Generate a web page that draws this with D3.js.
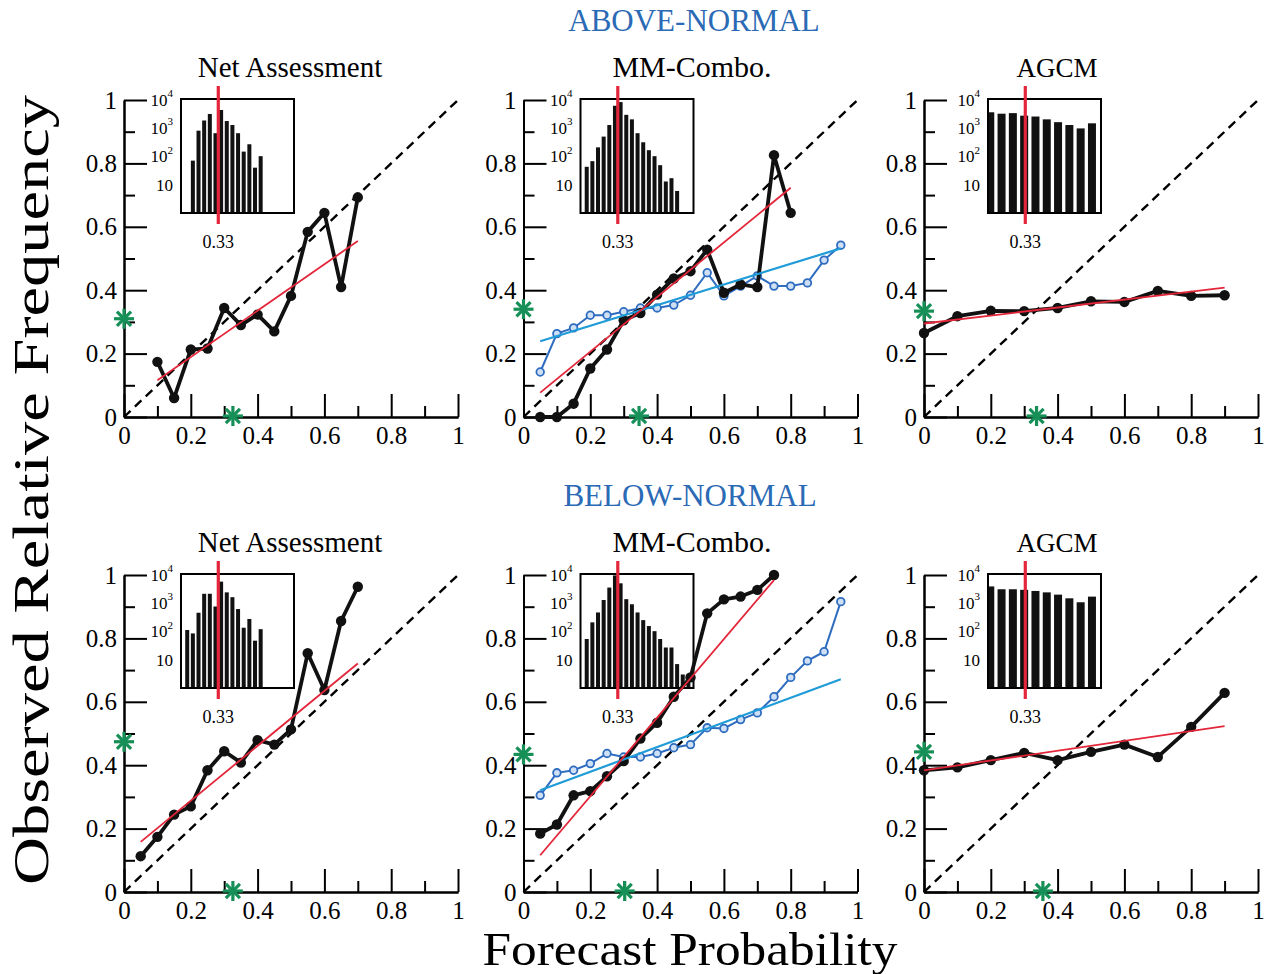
<!DOCTYPE html>
<html><head><meta charset="utf-8">
<script src="https://cdn.jsdelivr.net/npm/d3@7"></script>
<style>body{margin:0;background:#fff} text{font-family:"Liberation Serif","Times New Roman",serif}</style>
</head><body><svg id="c" width="1268" height="974"></svg>
<script>
// ---------- labels ----------
const rowLabels = ["ABOVE-NORMAL", "BELOW-NORMAL"];
const panelTitles = ["Net Assessment", "MM-Combo.", "AGCM"];
const majorTicks = [0, 0.2, 0.4, 0.6, 0.8, 1];
const majorTickLabels = ["0", "0.2", "0.4", "0.6", "0.8", "1"];
const minorTicks = [0.1, 0.3, 0.5, 0.7, 0.9];
const insetTicks = [10000, 1000, 100, 10];
const insetTickBase = ["10", "10", "10", "10"];
const insetTickExp = ["4", "3", "2", ""];
const climoLabel = "0.33";
const climoValue = 0.33;

// ---------- ABOVE-NORMAL : Net Assessment ----------
const naAbvX = [0.10,0.15,0.20,0.25,0.30,0.35,0.40,0.45,0.50,0.55,0.60,0.65,0.70];
const naAbvY = [0.174,0.06,0.213,0.216,0.344,0.29,0.323,0.27,0.382,0.584,0.644,0.41,0.693];
const naAbvFitX = [0.10, 0.70];
const naAbvFitY = [0.116, 0.555];
const naAbvHistX = [0.10,0.15,0.20,0.25,0.30,0.35,0.40,0.45,0.50,0.55,0.60,0.65,0.70];
const naAbvHist = [71,813,1862,3162,661,4365,1778,1288,661,148,269,40,102];
const naAbvStar = [0.31, 0.326];

// ---------- ABOVE-NORMAL : MM-Combo ----------
const mmAbvX = [0.05,0.10,0.15,0.20,0.25,0.30,0.35,0.40,0.45,0.50,0.55,0.60,0.65,0.70,0.75,0.80];
const mmAbvY = [0.0,0.0,0.042,0.153,0.213,0.305,0.328,0.386,0.437,0.46,0.528,0.392,0.418,0.41,0.826,0.644];
const mmAbvFitX = [0.05, 0.80];
const mmAbvFitY = [0.077, 0.723];
const mmAbvBlueX = [0.05,0.10,0.15,0.20,0.25,0.30,0.35,0.40,0.45,0.50,0.55,0.60,0.65,0.70,0.75,0.80,0.85,0.90,0.95];
const mmAbvBlueY = [0.142,0.263,0.281,0.321,0.321,0.332,0.344,0.344,0.353,0.384,0.455,0.382,0.413,0.445,0.413,0.413,0.423,0.495,0.542];
const mmAbvBlueFitX = [0.05, 0.95];
const mmAbvBlueFitY = [0.239, 0.532];
const mmAbvHistX = [0.05,0.10,0.15,0.20,0.25,0.30,0.35,0.40,0.45,0.50,0.55,0.60,0.65,0.70,0.75,0.80,0.85];
const mmAbvHist = [43,68,209,501,1288,6166,8318,2951,2042,661,316,166,102,49,13,17,6];
const mmAbvStar = [0.34, 0.346];

// ---------- ABOVE-NORMAL : AGCM ----------
const agAbvX = [0.0,0.1,0.2,0.3,0.4,0.5,0.6,0.7,0.8,0.9];
const agAbvY = [0.265,0.318,0.335,0.334,0.344,0.365,0.363,0.398,0.382,0.384];
const agAbvFitX = [0.0, 0.9];
const agAbvFitY = [0.295, 0.408];
const agAbvHistX = [0.0,0.1,0.2,0.3,0.4,0.5,0.6,0.7,0.8,0.9];
const agAbvHist = [3631,3236,3388,2754,2570,2042,1622,1288,977,1479];
const agAbvStar = [0.334, 0.337];

// ---------- BELOW-NORMAL : Net Assessment ----------
const naBlwX = [0.05,0.10,0.15,0.20,0.25,0.30,0.35,0.40,0.45,0.50,0.55,0.60,0.65,0.70];
const naBlwY = [0.113,0.174,0.244,0.27,0.384,0.444,0.408,0.479,0.465,0.513,0.753,0.637,0.855,0.963];
const naBlwFitX = [0.05, 0.70];
const naBlwFitY = [0.158, 0.721];
const naBlwHistX = [0.05,0.10,0.15,0.20,0.25,0.30,0.35,0.40,0.45,0.50,0.55,0.60,0.65,0.70];
const naBlwHist = [112,85,457,2138,2138,759,5754,2399,1622,617,135,275,47,120];
const naBlwStar = [0.474, 0.326];

// ---------- BELOW-NORMAL : MM-Combo ----------
const mmBlwX = [0.05,0.10,0.15,0.20,0.25,0.30,0.35,0.40,0.45,0.50,0.55,0.60,0.65,0.70,0.75];
const mmBlwY = [0.184,0.213,0.305,0.318,0.365,0.413,0.484,0.534,0.616,0.677,0.879,0.923,0.932,0.953,1.0];
const mmBlwFitX = [0.05, 0.75];
const mmBlwFitY = [0.116, 0.984];
const mmBlwBlueX = [0.05,0.10,0.15,0.20,0.25,0.30,0.35,0.40,0.45,0.50,0.55,0.60,0.65,0.70,0.75,0.80,0.85,0.90,0.95];
const mmBlwBlueY = [0.305,0.376,0.384,0.405,0.437,0.426,0.426,0.437,0.455,0.465,0.518,0.516,0.544,0.565,0.616,0.677,0.729,0.758,0.916];
const mmBlwBlueFitX = [0.05, 0.95];
const mmBlwBlueFitY = [0.321, 0.671];
const mmBlwHistX = [0.05,0.10,0.15,0.20,0.25,0.30,0.35,0.40,0.45,0.50,0.55,0.60,0.65,0.70,0.75,0.80,0.85,0.90,0.95];
const mmBlwHist = [54,209,468,1288,3548,9550,5012,1380,912,468,251,155,102,54,27,27,7,3,3];
const mmBlwStar = [0.434, 0.303];

// ---------- BELOW-NORMAL : AGCM ----------
const agBlwX = [0.0,0.1,0.2,0.3,0.4,0.5,0.6,0.7,0.8,0.9];
const agBlwY = [0.384,0.393,0.416,0.439,0.416,0.442,0.465,0.426,0.521,0.628];
const agBlwFitX = [0.0, 0.9];
const agBlwFitY = [0.384, 0.523];
const agBlwHistX = [0.0,0.1,0.2,0.3,0.4,0.5,0.6,0.7,0.8,0.9];
const agBlwHist = [3890,3090,3090,2951,2692,2399,1995,1479,1072,1698];
const agBlwStar = [0.442, 0.356];

// ---------- layout / style ----------
const W = 334, H = 317;
const colX = [124, 523.5, 924];
const rowY = [100, 575];
const titleX = [290, 692, 1057];
const titleSize = [29, 30, 27];
const BLACK = "#111", RED = "#e3263a", BLUE = "#2e6cc0", CYAN = "#1f9bd7", GREEN = "#179058", HEADBLUE = "#2b6ab5";

const zip = (a, b) => a.map((v, i) => [v, b[i]]);
const panels = [
  {r:0,c:0, black:zip(naAbvX,naAbvY), fit:zip(naAbvFitX,naAbvFitY), hist:zip(naAbvHistX,naAbvHist), star:naAbvStar, wide:false},
  {r:0,c:1, black:zip(mmAbvX,mmAbvY), fit:zip(mmAbvFitX,mmAbvFitY), blue:zip(mmAbvBlueX,mmAbvBlueY), blueFit:zip(mmAbvBlueFitX,mmAbvBlueFitY), hist:zip(mmAbvHistX,mmAbvHist), star:mmAbvStar, wide:false},
  {r:0,c:2, black:zip(agAbvX,agAbvY), fit:zip(agAbvFitX,agAbvFitY), hist:zip(agAbvHistX,agAbvHist), star:agAbvStar, wide:true},
  {r:1,c:0, black:zip(naBlwX,naBlwY), fit:zip(naBlwFitX,naBlwFitY), hist:zip(naBlwHistX,naBlwHist), star:naBlwStar, wide:false},
  {r:1,c:1, black:zip(mmBlwX,mmBlwY), fit:zip(mmBlwFitX,mmBlwFitY), blue:zip(mmBlwBlueX,mmBlwBlueY), blueFit:zip(mmBlwBlueFitX,mmBlwBlueFitY), hist:zip(mmBlwHistX,mmBlwHist), star:mmBlwStar, wide:false},
  {r:1,c:2, black:zip(agBlwX,agBlwY), fit:zip(agBlwFitX,agBlwFitY), hist:zip(agBlwHistX,agBlwHist), star:agBlwStar, wide:true},
];

const svg = d3.select("#c");
svg.append("rect").attr("width",1268).attr("height",974).attr("fill","#fff");

// Row headers
rowLabels.forEach((t, i) => {
  svg.append("text").attr("x", i === 0 ? 694 : 690).attr("y", i === 0 ? 31 : 506)
    .attr("text-anchor","middle").attr("font-size",31).attr("fill",HEADBLUE).text(t);
});
// Panel titles
[0,1].forEach(r => panelTitles.forEach((t, c) => {
  svg.append("text").attr("x", titleX[c]).attr("y", rowY[r] - 23)
    .attr("text-anchor","middle").attr("font-size",titleSize[c]).attr("fill","#000").text(t);
}));
// Axis titles
svg.append("text").attr("transform","translate(48,490) rotate(-90)")
  .attr("text-anchor","middle").attr("font-size",50).attr("textLength",790).attr("lengthAdjust","spacingAndGlyphs")
  .text("Observed Relative Frequency");
svg.append("text").attr("x",690).attr("y",965)
  .attr("text-anchor","middle").attr("font-size",47).attr("textLength",415).attr("lengthAdjust","spacingAndGlyphs")
  .text("Forecast Probability");

function asterisk(g, cx, cy) {
  const R = 10;
  [0, 45, 90, 135].forEach(a => {
    const rad = a * Math.PI / 180;
    g.append("line").attr("x1", cx - R*Math.cos(rad)).attr("y1", cy - R*Math.sin(rad))
      .attr("x2", cx + R*Math.cos(rad)).attr("y2", cy + R*Math.sin(rad))
      .attr("stroke", GREEN).attr("stroke-width", 3.2).attr("stroke-linecap","butt");
  });
}

panels.forEach(p => {
  const g = svg.append("g").attr("transform", `translate(${colX[p.c]},${rowY[p.r]})`);
  const x = d3.scaleLinear([0,1],[0,W]);
  const y = d3.scaleLinear([0,1],[H,0]);

  // ---- inset histogram ----
  const IW = 113, IH = 114;
  const ig = g.append("g").attr("transform", `translate(${p.wide ? 64 : 57},-1)`);
  const xs = d3.scaleLinear([0,1],[0,IW]);
  const ys = d3.scaleLog([1, 10700],[IH,0]);
  const bw = p.wide ? 8 : 4;
  const off = p.wide ? 0.02 : 0.005;
  ig.selectAll("rect.bar").data(p.hist).join("rect").attr("class","bar")
    .attr("x", d => Math.max(0, xs(d[0] + off) - bw/2))
    .attr("width", d => Math.min(bw, xs(d[0] + off) + bw/2 - Math.max(0, xs(d[0] + off) - bw/2)))
    .attr("y", d => ys(d[1])).attr("height", d => IH - ys(d[1])).attr("fill", "#111");
  ig.append("rect").attr("width",IW).attr("height",IH).attr("fill","none").attr("stroke","#000").attr("stroke-width",2);
  insetTicks.forEach((v, i) => {
    const t = ig.append("text").attr("x", -8).attr("y", ys(v)).attr("dy","0.35em")
      .attr("text-anchor","end").attr("font-size",17);
    t.append("tspan").text(insetTickBase[i]);
    if (insetTickExp[i]) t.append("tspan").attr("font-size",11).attr("dy","-0.8em").text(insetTickExp[i]);
  });
  ig.append("line").attr("x1", xs(climoValue)).attr("x2", xs(climoValue)).attr("y1", -13).attr("y2", IH + 11)
    .attr("stroke", RED).attr("stroke-width", 3.2);
  ig.append("text").attr("x", xs(climoValue)).attr("y", 149).attr("text-anchor","middle")
    .attr("font-size",18).text(climoLabel);

  // ---- axes ----
  const fmt = d => majorTickLabels[majorTicks.indexOf(d)];
  const yMinor = g.append("g").call(d3.axisLeft(y).tickValues(minorTicks).tickSize(-11).tickSizeOuter(0).tickFormat(""));
  const yMajor = g.append("g").call(d3.axisLeft(y).tickValues(majorTicks).tickSize(-23).tickSizeOuter(0).tickPadding(7).tickFormat(fmt));
  const xMinor = g.append("g").attr("transform",`translate(0,${H})`).call(d3.axisBottom(x).tickValues(minorTicks).tickSize(-11).tickSizeOuter(0).tickFormat(""));
  const xMajor = g.append("g").attr("transform",`translate(0,${H})`).call(d3.axisBottom(x).tickValues(majorTicks).tickSize(-23).tickSizeOuter(0).tickPadding(9).tickFormat(fmt));
  [yMinor, yMajor, xMinor, xMajor].forEach(a => {
    a.attr("font-family", "Liberation Serif, serif");
    a.selectAll("path.domain").attr("stroke","#000").attr("stroke-width",2);
    a.selectAll(".tick line").attr("stroke","#000").attr("stroke-width",2);
    a.selectAll(".tick text").attr("font-size",25).attr("fill","#000");
  });

  // ---- diagonal ----
  g.append("path").attr("d", d3.line().x(d => x(d)).y(d => y(d))([0,1]))
    .attr("stroke","#000").attr("stroke-width",2.4).attr("stroke-dasharray","9,6").attr("fill","none");

  const line = d3.line().x(d => x(d[0])).y(d => y(d[1]));

  // ---- blue series ----
  if (p.blue) {
    g.append("path").attr("d", line(p.blue)).attr("stroke",BLUE).attr("stroke-width",2).attr("fill","none");
    g.selectAll("circle.blue").data(p.blue).join("circle").attr("class","blue")
      .attr("cx", d => x(d[0])).attr("cy", d => y(d[1])).attr("r",3.8)
      .attr("fill","#cfe0f5").attr("stroke",BLUE).attr("stroke-width",1.8);
  }
  // ---- black series ----
  g.append("path").attr("d", line(p.black)).attr("stroke",BLACK).attr("stroke-width",3.8).attr("fill","none").attr("stroke-linejoin","round");
  g.selectAll("circle.blk").data(p.black).join("circle").attr("class","blk")
    .attr("cx", d => x(d[0])).attr("cy", d => y(d[1])).attr("r",5.2).attr("fill",BLACK);
  // ---- fits ----
  if (p.blueFit) g.append("path").attr("d", line(p.blueFit)).attr("stroke",CYAN).attr("stroke-width",2.2).attr("fill","none");
  g.append("path").attr("d", line(p.fit)).attr("stroke",RED).attr("stroke-width",1.8).attr("fill","none");

  // ---- climatology asterisks ----
  asterisk(g, x(0), y(p.star[0]));
  asterisk(g, x(p.star[1]), y(0) - 1);
});
</script></body></html>
